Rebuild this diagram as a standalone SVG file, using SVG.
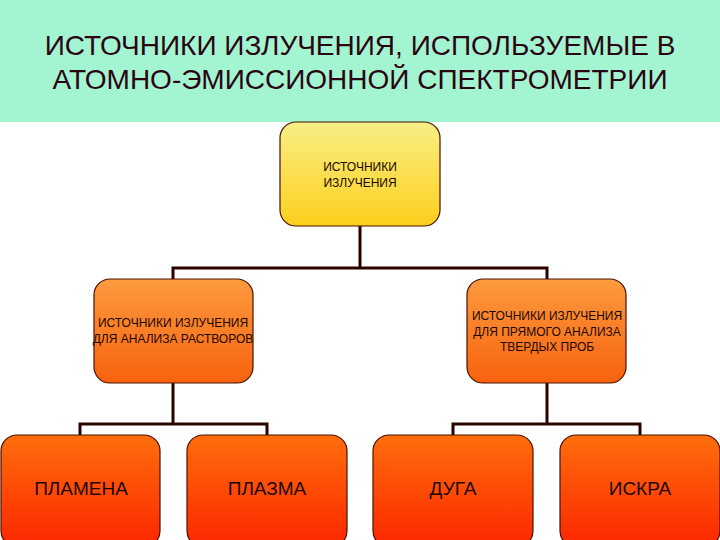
<svg xmlns="http://www.w3.org/2000/svg" width="720" height="540" viewBox="0 0 720 540">
<defs>
<linearGradient id="gRoot" x1="0" y1="0" x2="0" y2="1">
<stop offset="0" stop-color="#f9ef86"/>
<stop offset="1" stop-color="#fdcf1c"/>
</linearGradient>
<linearGradient id="gMid" x1="0" y1="0" x2="0" y2="1">
<stop offset="0" stop-color="#fc9a3e"/>
<stop offset="1" stop-color="#f8620e"/>
</linearGradient>
<linearGradient id="gLeaf" x1="0" y1="0" x2="0" y2="1">
<stop offset="0" stop-color="#ff6e0c"/>
<stop offset="1" stop-color="#fd2600"/>
</linearGradient>
<style>
.title{font-family:"Liberation Sans",Arial,sans-serif;font-size:28px;fill:#2a0612;text-anchor:middle}
.box{stroke:#4a1200;stroke-width:1.2}
.small{font-family:"Liberation Sans",Arial,sans-serif;font-size:12px;fill:#1a0800;text-anchor:middle}
.big{font-family:"Liberation Sans",Arial,sans-serif;font-size:19px;fill:#1a0800;text-anchor:middle}
.conn{fill:none;stroke:#2a0500;stroke-width:3}
</style>
</defs>
<rect x="0" y="0" width="720" height="540" fill="#ffffff"/>
<rect x="0" y="0" width="720" height="122" fill="#a3f5d2"/>
<text class="title" x="360" y="55">ИСТОЧНИКИ ИЗЛУЧЕНИЯ, ИСПОЛЬЗУЕМЫЕ В</text>
<text class="title" x="360" y="89">АТОМНО-ЭМИССИОННОЙ СПЕКТРОМЕТРИИ</text>
<g id="connectors">
<path class="conn" d="M360 226 V268 M173 279 V268 H547 V279"/>
<path class="conn" d="M173 383 V424 M80 435 V424 H267 V435"/>
<path class="conn" d="M547 383 V424 M453 435 V424 H640 V435"/>
</g>
<g id="root">
<rect class="box" x="280" y="122" width="160" height="104" rx="16" fill="url(#gRoot)"/>
<text class="small" x="360" y="171">ИСТОЧНИКИ</text>
<text class="small" x="360" y="187">ИЗЛУЧЕНИЯ</text>
</g>
<g id="solutions">
<rect class="box" x="94" y="279" width="159" height="104" rx="16" fill="url(#gMid)"/>
<text class="small" x="173" y="327">ИСТОЧНИКИ ИЗЛУЧЕНИЯ</text>
<text class="small" x="173" y="343">ДЛЯ АНАЛИЗА РАСТВОРОВ</text>
</g>
<g id="solids">
<rect class="box" x="467" y="279" width="159" height="104" rx="16" fill="url(#gMid)"/>
<text class="small" x="547" y="320">ИСТОЧНИКИ ИЗЛУЧЕНИЯ</text>
<text class="small" x="547" y="336">ДЛЯ ПРЯМОГО АНАЛИЗА</text>
<text class="small" x="547" y="351">ТВЕРДЫХ ПРОБ</text>
</g>
<g id="flame">
<rect class="box" x="1" y="435" width="159" height="112" rx="16" fill="url(#gLeaf)"/>
<text class="big" x="81" y="495">ПЛАМЕНА</text>
</g>
<g id="plasma">
<rect class="box" x="187" y="435" width="160" height="112" rx="16" fill="url(#gLeaf)"/>
<text class="big" x="267" y="495">ПЛАЗМА</text>
</g>
<g id="arc">
<rect class="box" x="373" y="435" width="160" height="112" rx="16" fill="url(#gLeaf)"/>
<text class="big" x="453" y="495">ДУГА</text>
</g>
<g id="spark">
<rect class="box" x="560" y="435" width="160" height="112" rx="16" fill="url(#gLeaf)"/>
<text class="big" x="640" y="495">ИСКРА</text>
</g>
</svg>
